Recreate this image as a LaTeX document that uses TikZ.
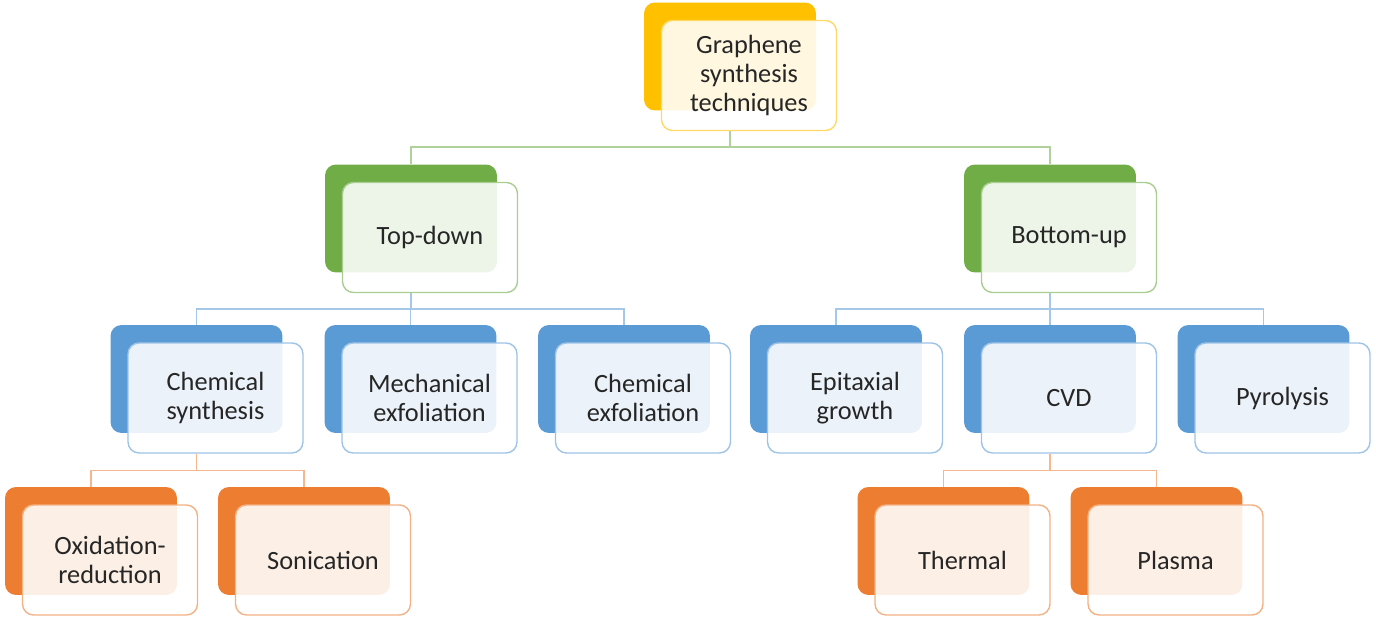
\documentclass[tikz,border=0pt]{standalone}
\usepackage{fontspec}
\setmainfont{Carlito}
\pgfdeclarelayer{bg}\pgfsetlayers{bg,main}
\definecolor{cy}{HTML}{FFC000}
\definecolor{cg}{HTML}{70AD47}
\definecolor{cb}{HTML}{5B9BD5}
\definecolor{co}{HTML}{ED7D31}
\tikzset{
 backbox/.style={rounded corners=0.22cm, fill=#1, draw=none, minimum width=3.44cm, minimum height=2.16cm, inner sep=0pt},
 frontbox/.style={rounded corners=0.22cm, draw=#1!60, fill=white, fill opacity=0.88, text opacity=1, line width=0.8pt, minimum width=3.5cm, minimum height=2.2cm, inner sep=0pt, align=center, font=\fontsize{15}{16.5}\selectfont, text=black!85},
 conn/.style={draw=#1!55, line width=0.8pt}
}
\newcommand\pairbox[5]{%
 \node[backbox=#4] (b#1) at (#2,#3) {};
 \node[frontbox=#4] (f#1) at ([xshift=0.38cm,yshift=-0.38cm]b#1.center) {#5};
}
\begin{document}
\begin{tikzpicture}[x=0.02cm,y=-0.02cm]
\useasboundingbox (0,0) rectangle (1376,621);
\pairbox{top}{730}{56.5}{cy}{Graphene\\synthesis\\techniques}
\pairbox{td}{411}{218.5}{cg}{Top-down}
\pairbox{bu}{1050}{218.5}{cg}{Bottom-up}
\pairbox{cs}{196.5}{379}{cb}{Chemical\\synthesis}
\pairbox{me}{410.5}{379}{cb}{Mechanical\\exfoliation}
\pairbox{ce}{624}{379}{cb}{Chemical\\exfoliation}
\pairbox{eg}{836}{379}{cb}{Epitaxial\\growth}
\pairbox{cvd}{1050}{379}{cb}{CVD}
\pairbox{py}{1263.5}{379}{cb}{Pyrolysis}
\pairbox{ox}{91}{541}{co}{Oxidation-\\reduction}
\pairbox{so}{304}{541}{co}{Sonication}
\pairbox{th}{943.5}{541}{co}{Thermal}
\pairbox{pl}{1156.5}{541}{co}{Plasma}
\begin{pgfonlayer}{bg}
\draw[conn=cg] (btop.south |- ftop.south) -- ++(0,16) -| (btd.north);
\draw[conn=cg] (btop.south |- ftop.south) -- ++(0,16) -| (bbu.north);
\foreach \c in {cs,me,ce}{\draw[conn=cb] (btd.south |- ftd.south) -- ++(0,16) -| (b\c.north);}
\foreach \c in {eg,cvd,py}{\draw[conn=cb] (bbu.south |- fbu.south) -- ++(0,16) -| (b\c.north);}
\foreach \c in {ox,so}{\draw[conn=co] (bcs.south |- fcs.south) -- ++(0,17) -| (b\c.north);}
\foreach \c in {th,pl}{\draw[conn=co] (bcvd.south |- fcvd.south) -- ++(0,17) -| (b\c.north);}
\end{pgfonlayer}
\end{tikzpicture}
\end{document}
